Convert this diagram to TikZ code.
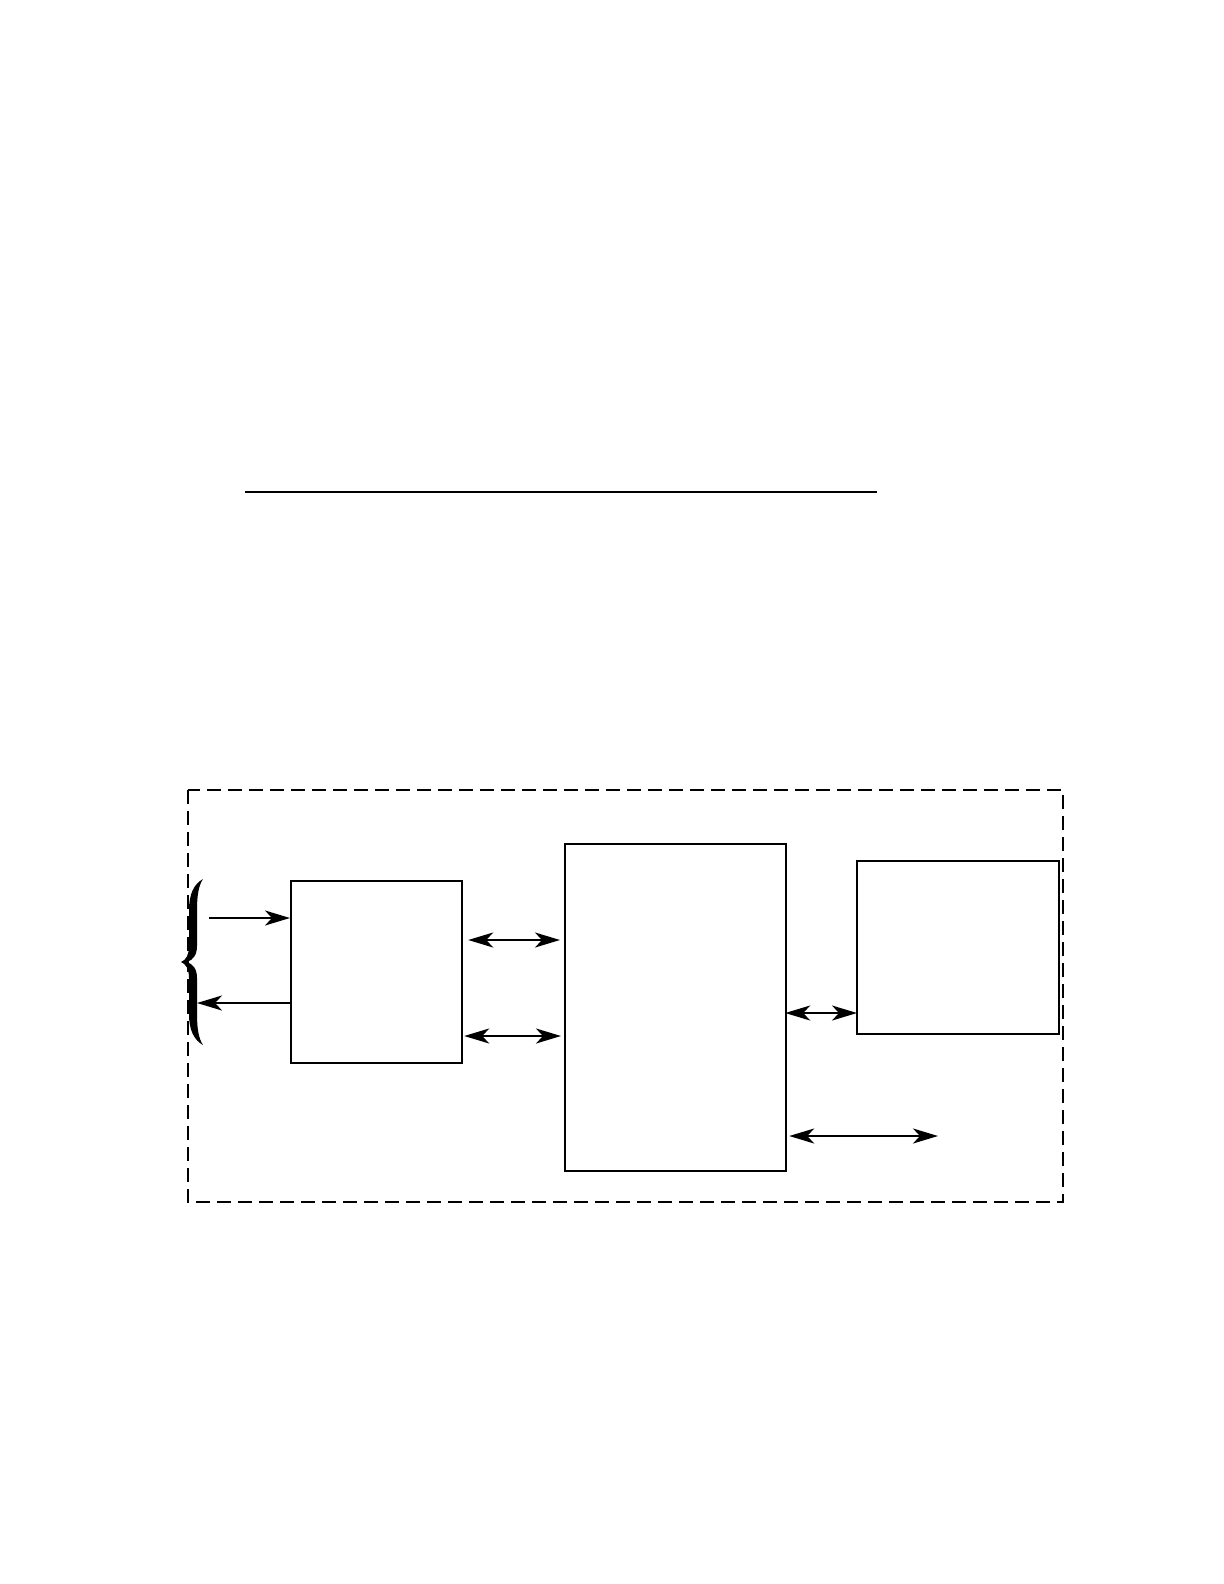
\documentclass[tikz,border=0pt]{standalone}
\usetikzlibrary{arrows.meta}
\begin{document}
\begin{tikzpicture}[x=0.5pt,y=-0.5pt,
  box/.style={draw,line width=1.1pt,inner sep=0pt,anchor=north west},
  frame/.style={draw,line width=1.1pt,dash pattern=on 7pt off 3.5pt},
  arr/.style={line width=1.1pt,-{Stealth[length=12.5pt,width=7.5pt,inset=3.5pt]}},
  dar/.style={line width=1.1pt,{Stealth[length=12.5pt,width=7.5pt,inset=3.5pt]}-{Stealth[length=12.5pt,width=7.5pt,inset=3.5pt]}}]
\useasboundingbox (0,0) rectangle (1224,1584);
% top rule
\draw[line width=0.7pt] (245,492) -- (877,492);
% dashed frame
\draw[frame] (188,790) rectangle (1063,1202);
% boxes
\node[box,minimum width=85.5pt,minimum height=91pt] (A) at (290,880) {};
\node[box,minimum width=110.5pt,minimum height=163.5pt] (B) at (564,843) {};
\node[box,minimum width=101pt,minimum height=86.5pt] (C) at (856,860) {};
% brace
\fill (203,879) .. controls (194,884) and (189,894) .. (189,910)
  -- (189,946) .. controls (189,955) and (186,960) .. (181,962)
  .. controls (186,964) and (189,969) .. (189,978)
  -- (189,1014) .. controls (189,1030) and (194,1040) .. (203,1045)
  .. controls (199,1039) and (197,1030) .. (197,1014)
  -- (197,978) .. controls (197,969) and (193,964) .. (187,962)
  .. controls (193,960) and (197,955) .. (197,946)
  -- (197,910) .. controls (197,894) and (199,885) .. (203,879) -- cycle;
% coordinates
\coordinate (inS) at (209,918);
\coordinate (outE) at (197,1003);
\coordinate (bout) at (938,1136);
% arrows
\draw[arr] (inS) -- (A.west |- inS);
\draw[arr] (A.west |- outE) -- (outE);
\draw[dar] ([xshift=2.5pt]A.east |- 0,940) -- ([xshift=-2pt]B.west |- 0,940);
\draw[dar] ([xshift=0.5pt]A.east |- 0,1036) -- ([xshift=-1.5pt]B.west |- 0,1036);
\draw[dar] ([xshift=-1pt]B.east |- 0,1013) -- ([xshift=0.5pt]C.west |- 0,1013);
\draw[dar] ([xshift=1pt]B.east |- bout) -- (bout);
\end{tikzpicture}
\end{document}
